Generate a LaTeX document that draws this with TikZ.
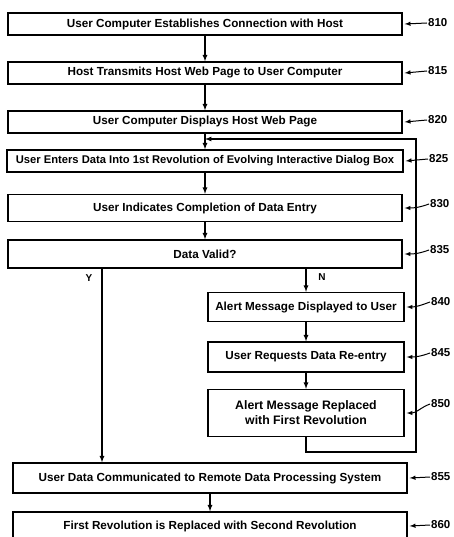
\documentclass[tikz,border=0pt]{standalone}
\usepackage{fontspec}
\setmainfont{Liberation Sans}
\usetikzlibrary{shapes,arrows}
\usetikzlibrary{calc}

\tikzset{
  blk/.style={draw, line width=1.3pt, rectangle, inner sep=0pt, align=center, font=\bfseries\fontsize{11.7}{14}\selectfont},
  flow/.style={-latex, line width=1.2pt},
  lead/.style={latex-, line width=1pt},
  refno/.style={anchor=west, inner sep=1pt, font=\bfseries\fontsize{11.5}{13}\selectfont},
  yn/.style={inner sep=0pt, font=\bfseries\fontsize{10}{11}\selectfont}
}

\begin{document}
\begin{tikzpicture}[x=1pt, y=-1pt]
		\useasboundingbox (0,0) rectangle (453,537);
		% main column
		\node [blk, minimum width=394pt, minimum height=22pt] (b810) at (205,24) {User Computer Establishes Connection with Host};
		\node [blk, minimum width=394pt, minimum height=22pt] (b815) at (205,73) {Host Transmits Host Web Page to User Computer};
		\node [blk, minimum width=394pt, minimum height=22pt] (b820) at (205,122) {User Computer Displays Host Web Page};
		\node [blk, minimum width=396pt, minimum height=22pt, font=\bfseries\fontsize{11.2}{13}\selectfont] (b825) at (205,161) {User Enters Data Into 1st Revolution of Evolving Interactive Dialog Box};
		\node [blk, minimum width=394pt, minimum height=27pt] (b830) at (205,208) {User Indicates Completion of Data Entry};
		\node [blk, minimum width=394pt, minimum height=28pt] (b835) at (205,254) {Data Valid?};
		% no branch
		\node [blk, minimum width=196pt, minimum height=29pt] (b840) at (306,307) {Alert Message Displayed to User};
		\node [blk, minimum width=196pt, minimum height=30pt] (b845) at (306,357) {User Requests Data Re-entry};
		\node [blk, minimum width=196pt, minimum height=47pt, font=\bfseries\fontsize{12.3}{15}\selectfont] (b850) at (306,413) {Alert Message Replaced\\with First Revolution};
		% end
		\node [blk, minimum width=394pt, minimum height=30pt] (b855) at (210,478) {User Data Communicated to Remote Data Processing System};
		\node [blk, minimum width=394pt, minimum height=28pt] (b860) at (210,526) {First Revolution is Replaced with Second Revolution};

		\draw [flow] (b810) -- (b815);
		\draw [flow] (b815) -- (b820);
		\draw [flow] (b820) -- (b825);
		\draw [flow] (b825) -- (b830);
		\draw [flow] (b830) -- (b835);
		\draw [flow] (b855) -- (b860);
		\draw [flow] (b840) -- (b845);
		\draw [flow] (b845) -- (b850);

		% Y and N
		\coordinate (yx) at (102,0);
		\draw [flow] (b835.south -| yx) -- (b855.north -| yx);
		\node [yn] (ylab) at (89,278) {Y};
		\draw [flow] (b840.north |- b835.south) -- (b840.north);
		\node [yn] (nlab) at (322,277) {N};

		% loop back
		\coordinate (lpB) at (416,452);
		\coordinate (lpR) at (416,139);
		\draw [flow] (b850.south) |- (lpB) -- (lpR) -- (b825.north |- lpR);

		% reference numbers
		\node [refno] (n810) at (427,23) {810};
		\node [refno] (n815) at (427,71) {815};
		\node [refno] (n820) at (427,120) {820};
		\node [refno] (n825) at (428,159) {825};
		\node [refno] (n830) at (429,204) {830};
		\node [refno] (n835) at (429,250) {835};
		\node [refno] (n840) at (430,302) {840};
		\node [refno] (n845) at (430,353) {845};
		\node [refno] (n850) at (430,404) {850};
		\node [refno] (n855) at (430,477) {855};
		\node [refno] (n860) at (430,525) {860};
		\foreach \n in {810,815,820,825,855,860}
			\draw [lead] ([xshift=2pt]b\n.east) -- (n\n.west);
		\foreach \n in {830,835,840,845,850}
			\draw [lead] ([xshift=2pt]b\n.east) to [out=0, in=200] (n\n.west);
\end{tikzpicture}
\end{document}
